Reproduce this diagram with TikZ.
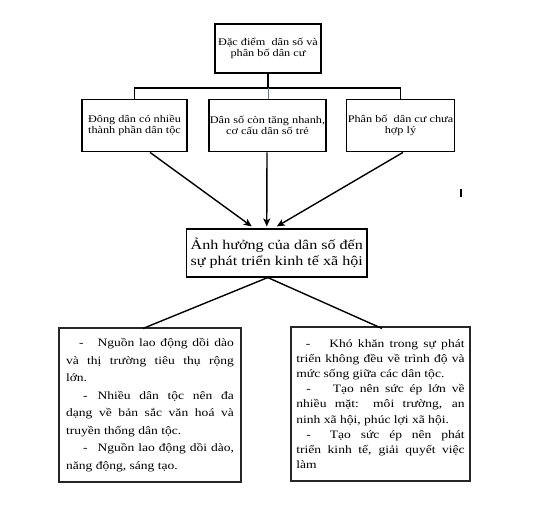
\documentclass[tikz,border=0pt]{standalone}
\usepackage{fontspec}
\setmainfont[FakeStretch=1.2]{Liberation Serif}
\usetikzlibrary{arrows.meta}
\definecolor{cursorblue}{RGB}{95,125,155}
\begin{document}
\begin{tikzpicture}[x=1pt,y=-1pt,
  box/.style={draw=black,line width=1.3pt,inner xsep=1pt,inner ysep=0pt,align=center,anchor=center},
  smallfont/.style={font=\fontsize{10.2}{11}\selectfont},
  bbox/.style={draw=black!85,line width=1.1pt,inner ysep=0pt,anchor=center,align=justify},
  conn/.style={line width=1.4pt,draw=black},
  arr/.style={line width=1.4pt,draw=black,-{Stealth[length=8pt,width=7pt,inset=2pt]}}]
\useasboundingbox[fill=white] (0,0) rectangle (554,520);

\node[box,smallfont,minimum width=106pt,minimum height=49pt] (top) at (268,48.5)
  {Đặc điểm\ \ dân số và\\phân bố dân cư};

\node[box,smallfont,minimum width=105pt,minimum height=52.5pt] (b1) at (134.5,125.5)
  {Đông dân có nhiều\\thành phần dân tộc};
\node[box,smallfont,minimum width=117pt,minimum height=52.5pt] (b2) at (267.5,125.5)
  {Dân số còn tăng nhanh,\\cơ cấu dân số trẻ};
\node[box,smallfont,minimum width=105pt,minimum height=52.5pt] (b3) at (400.5,125.5)
  {Phân bố\ \ dân cư chưa\\hợp lý};

\node[box,line width=1.1pt,font=\fontsize{13.4}{16}\selectfont,minimum width=180.5pt,minimum height=48pt] (c) at (276.75,253)
  {Ảnh hưởng của dân số đến\\sự phát triển kinh tế xã hội};

\node[bbox,inner xsep=7pt,text width=168pt,minimum width=182pt,minimum height=154pt,
      font=\fontsize{11.3}{17.5}\selectfont] (d1) at (150,405)
  {\noindent\hspace*{13pt}-\hspace*{14pt}Nguồn lao động dồi dào\linebreak và thị trường tiêu thụ rộng\linebreak lớn.\par
  \noindent\hspace*{17pt}-\hspace*{10pt}Nhiều dân tộc nên đa\linebreak dạng về bản sắc văn hoá và\linebreak truyền thống dân tộc.\par
  \noindent\hspace*{17pt}-\hspace*{10pt}Nguồn lao động dồi dào,\linebreak năng động, sáng tạo.\par};

\node[bbox,inner xsep=5.4pt,text width=168.2pt,minimum width=179pt,minimum height=154pt,
      font=\fontsize{11.3}{15.2}\selectfont] (d2) at (380.5,404)
  {\noindent\hspace*{9.5pt}-\hspace*{19pt}Khó khăn trong sự phát\linebreak triển không đều về trình độ và\linebreak mức sống giữa các dân tộc.\par
  \noindent\hspace*{10pt}-\hspace*{22pt}Tạo nên sức ép lớn về\linebreak nhiều mặt: môi trường, an\linebreak ninh xã hội, phúc lợi xã hội.\par
  \noindent\hspace*{10pt}-\hspace*{19pt}Tạo sức ép nên phát\linebreak triển kinh tế, giải quyết việc\linebreak làm\par};

% tree connectors at the top
\coordinate (j) at (268,88);
\coordinate (jl) at (b1.north |- j);
\coordinate (jr) at (b3.north |- j);
\coordinate (jm) at ([xshift=1pt]b2.north |- j);
\draw[conn] (top.south) -- (j);
\draw[conn,line cap=rect] (jl) -- (jr);
\draw[conn] (jl) -- (b1.north);
\draw[conn] (jr) -- (b3.north);
\draw[line width=1.2pt,draw=cursorblue] (jm) -- ([xshift=1pt]b2.north);

% arrows into the central box
\draw[arr] ([xshift=15.5pt]b1.south) -- ([xshift=-25pt,yshift=2pt]c.north);
\draw[arr] ([xshift=-0.5pt]b2.south) -- ([xshift=-10pt,yshift=2pt]c.north);
\draw[arr] ([xshift=2.5pt]b3.south) -- ([xshift=0pt,yshift=2pt]c.north);

% lines to the bottom boxes
\coordinate (apex) at ([xshift=-9pt]c.south);
\draw[conn] (apex) -- ([xshift=-7pt,yshift=-1pt]d1.north);
\draw[conn] (apex) -- ([xshift=1.5pt,yshift=-2pt]d2.north);

% stray cursor mark
\coordinate (cur1) at (461,189);
\coordinate (cur2) at (461,197);
\draw[line width=1.6pt] (cur1) -- (cur2);
\end{tikzpicture}
\end{document}
